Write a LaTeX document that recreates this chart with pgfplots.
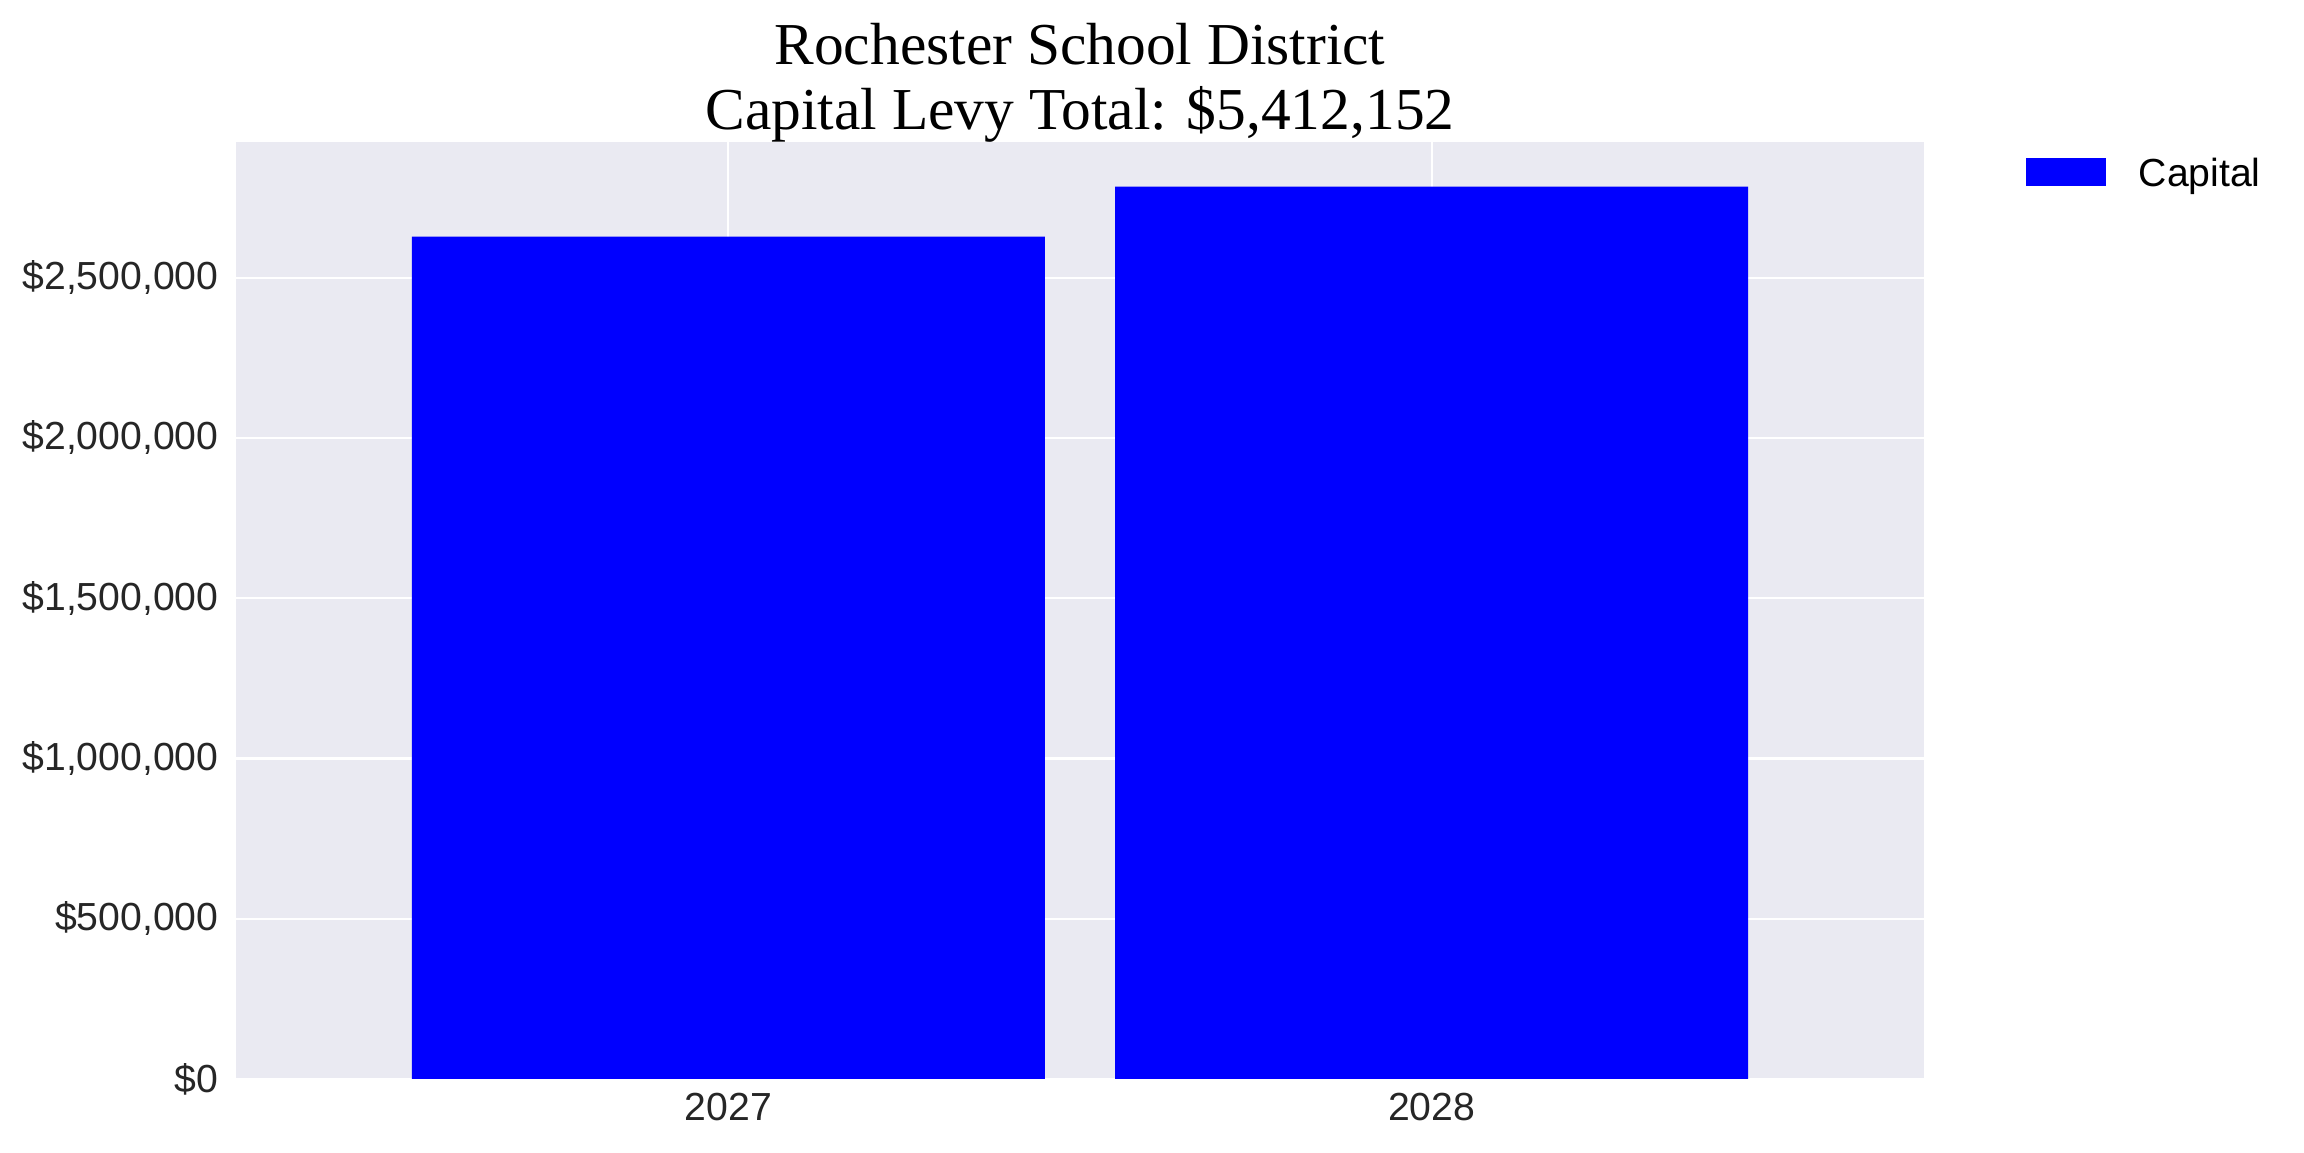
\documentclass[border=0pt]{standalone}
\usepackage{fontspec}
\setmainfont{Liberation Sans}
\newfontfamily\titlefont{Liberation Serif}
\usepackage{pgfplots}
\pgfplotsset{compat=1.18}
\definecolor{bgcol}{HTML}{EAEAF2}
\definecolor{tickcol}{HTML}{262626}
\begin{document}
\begin{tikzpicture}
\begin{axis}[
    name=ax,
    scale only axis,
    width=607.7pt, height=337.3pt,
    ybar,
    bar width=0.9,
    xmin=-0.7, xmax=1.7,
    ymin=0, ymax=2923360,
    xtick={0,1},
    xticklabels={2027,2028},
    ytick={0,500000,1000000,1500000,2000000,2500000},
    yticklabels={\$0,{\$500,000},{\$1,000,000},{\$1,500,000},{\$2,000,000},{\$2,500,000}},
    scaled y ticks=false,
    /pgf/number format/assume math mode=true,
    axis background/.style={fill=bgcol},
    axis line style={draw=none},
    major tick length=0pt,
    grid=major,
    major grid style={white, line width=0.8pt},
    ticklabel style={font=\fontsize{14.1pt}{16pt}\selectfont, text=tickcol, inner sep=0pt},
    xticklabel shift=5pt,
    yticklabel shift=6.1pt,
    legend style={at={(1,1)}, anchor=west, xshift=36.4pt, yshift=-11.5pt,
        draw=none, fill=none, inner sep=0pt, column sep=11.9pt,
        nodes={inner sep=0pt}, font=\fontsize{14.1pt}{16pt}\selectfont},
]
\addplot[fill=blue, draw=none,
    legend image code/.code={\fill[blue] (0pt,-4.3pt) rectangle (28.8pt,5.7pt);}]
    coordinates {(0,2628000) (1,2784152)};
\addlegendentry{Capital}
\end{axis}
\node[anchor=base, font=\titlefont\fontsize{21.4pt}{23.4pt}\selectfont]
    at ([yshift=27.97pt]ax.north) {Rochester School District};
\node[anchor=base, font=\titlefont\fontsize{21.4pt}{23.4pt}\selectfont]
    at ([yshift=4.57pt]ax.north) {Capital Levy Total: \$5,412,152};
\path (ax.north west) ++(-84.96pt,51.12pt) rectangle ++(829.44pt,-414.72pt);
\end{tikzpicture}
\end{document}
